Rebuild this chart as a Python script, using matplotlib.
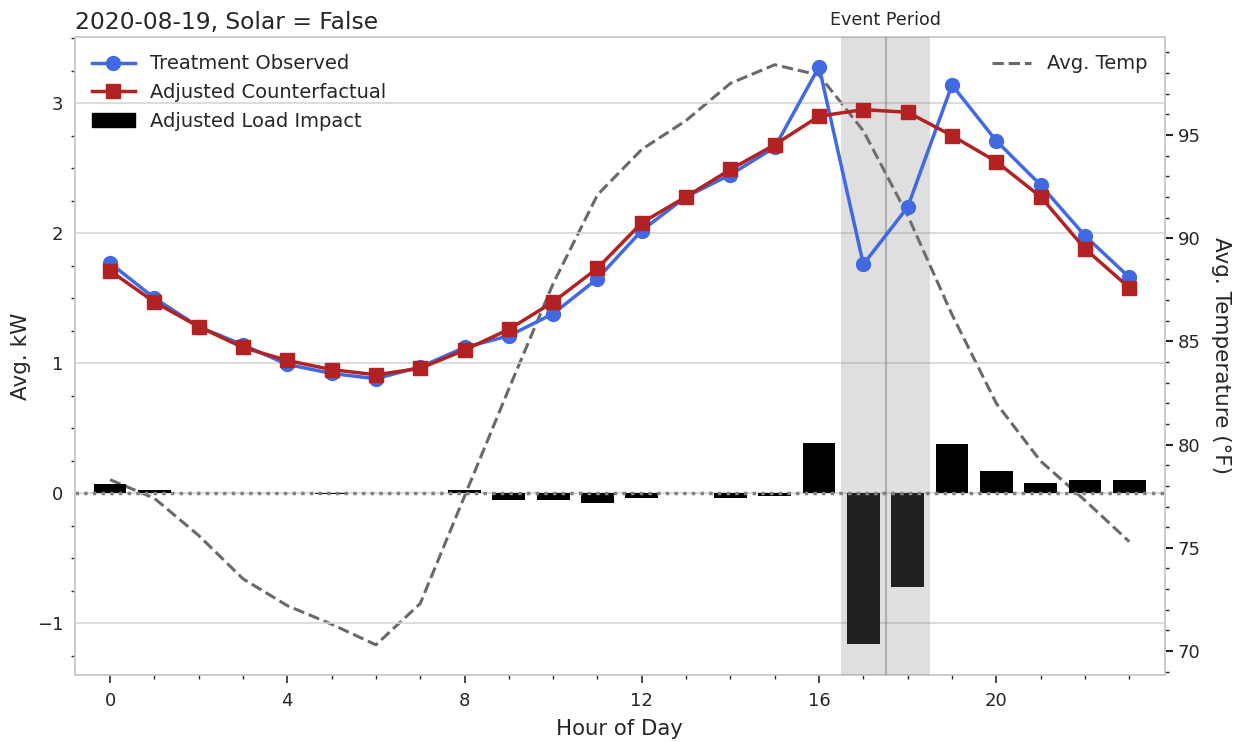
import matplotlib
matplotlib.use("Agg")
import matplotlib.pyplot as plt
from matplotlib.ticker import MultipleLocator
from matplotlib.patches import Patch
from matplotlib.lines import Line2D

hours = list(range(24))
treatment_observed = [1.77, 1.50, 1.28, 1.14, 0.99, 0.92, 0.88, 0.97, 1.12, 1.21, 1.38, 1.65,
                      2.02, 2.28, 2.45, 2.66, 3.28, 1.76, 2.20, 3.14, 2.71, 2.37, 1.98, 1.66]
adjusted_counterfactual = [1.71, 1.47, 1.28, 1.12, 1.02, 0.95, 0.91, 0.96, 1.10, 1.26, 1.47, 1.73,
                           2.08, 2.28, 2.49, 2.68, 2.90, 2.95, 2.93, 2.75, 2.55, 2.28, 1.88, 1.58]
load_impact = [0.07, 0.02, 0.0, 0.0, 0.0, -0.01, 0.0, 0.0, 0.02, -0.05, -0.05, -0.08,
               -0.04, 0.0, -0.04, -0.02, 0.385, -1.16, -0.72, 0.38, 0.17, 0.08, 0.10, 0.10]
avg_temp = [78.3, 77.4, 75.6, 73.5, 72.2, 71.3, 70.3, 72.3, 77.5, 82.7, 87.8, 92.1,
            94.3, 95.7, 97.5, 98.4, 97.9, 95.2, 91.1, 86.3, 82.0, 79.2, 77.3, 75.3]
event_start, event_end = 16.5, 18.5

plt.rcParams['font.family'] = ['DejaVu Sans']
plt.rcParams['text.color'] = '#262626'
plt.rcParams['axes.labelcolor'] = '#262626'
plt.rcParams['xtick.color'] = '#262626'
plt.rcParams['ytick.color'] = '#262626'

fig = plt.figure(figsize=(12.43, 7.42), dpi=100)
ax = fig.add_axes([0.060, 0.0903, 0.877, 0.860])
ax2 = ax.twinx()

ax.set_zorder(ax2.get_zorder() + 1)
ax.patch.set_visible(False)

ax.grid(axis='y', color='#d5d5d5', lw=1.2, zorder=0)
ax.set_axisbelow(True)

ax.bar(hours, load_impact, width=0.74, color='black', zorder=2, label='Adjusted Load Impact')
ax.axhline(0, color='#808080', lw=2.5, ls=(0, (1, 1.5)), zorder=2.5)
ax.axvspan(event_start, event_end, color='gray', alpha=0.25, lw=0, zorder=3)
ax.axvline((event_start + event_end) / 2, color='gray', alpha=0.5, lw=1.5, zorder=3)
ax.plot(hours, treatment_observed, color='royalblue', lw=2.5, marker='o', ms=10, zorder=4)
ax.plot(hours, adjusted_counterfactual, color='firebrick', lw=2.5, marker='s', ms=10, zorder=5)

ax2.plot(hours, avg_temp, color='dimgray', lw=2.2, ls='--')

ax.set_xlim(-0.8, 23.8)
ax.set_ylim(-1.40, 3.51)
ax2.set_ylim(68.84, 99.75)

ax.xaxis.set_major_locator(MultipleLocator(4))
ax.xaxis.set_minor_locator(MultipleLocator(1))
ax.yaxis.set_major_locator(MultipleLocator(1))
ax.yaxis.set_minor_locator(MultipleLocator(0.25))
ax2.yaxis.set_major_locator(MultipleLocator(5))
ax2.yaxis.set_minor_locator(MultipleLocator(1))

ax.tick_params(axis='x', which='major', length=6, width=1.2, labelsize=13, pad=6)
ax.tick_params(axis='x', which='minor', length=3, width=1)
ax.tick_params(axis='y', which='major', length=0, labelsize=13, pad=8)
ax.tick_params(axis='y', which='minor', length=3, width=1)
ax2.tick_params(axis='y', which='major', length=6, width=1.5, labelsize=13)
ax2.tick_params(axis='y', which='minor', length=3, width=1)

for a in (ax, ax2):
    for s in a.spines.values():
        s.set_color('#cccccc')
        s.set_linewidth(1.3)

ax.set_xlabel('Hour of Day', fontsize=15.3, labelpad=7)
ax.set_ylabel('Avg. kW', fontsize=15.5)
ax2.set_ylabel('Avg. Temperature (°F)', fontsize=15.5, rotation=270, labelpad=22)
ax.set_title('2020-08-19, Solar = False', loc='left', fontsize=16.8, pad=6)
ax.text((event_start + event_end) / 2, 1.012, 'Event Period', transform=ax.get_xaxis_transform(),
        ha='center', va='bottom', fontsize=12.6)

handles = [Line2D([], [], color='royalblue', lw=2.5, marker='o', ms=10),
           Line2D([], [], color='firebrick', lw=2.5, marker='s', ms=10),
           Patch(color='black')]
ax.legend(handles, ['Treatment Observed', 'Adjusted Counterfactual', 'Adjusted Load Impact'],
          loc='upper left', frameon=False, fontsize=14, handlelength=2.2, borderaxespad=0.5)
ax2.legend(loc='upper right', frameon=False, fontsize=14, labels=['Avg. Temp'],
           handles=[Line2D([], [], color='dimgray', lw=2.2, ls='--')])

fig.savefig('out.png', dpi=100)
